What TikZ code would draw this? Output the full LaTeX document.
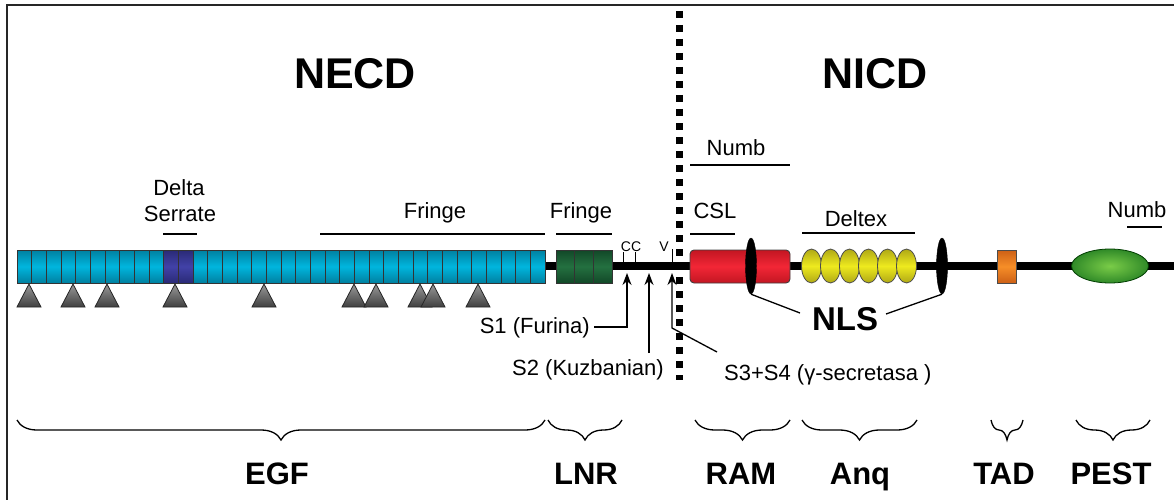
\documentclass[tikz,border=0pt]{standalone}
\usepackage{fontspec}
\setmainfont{Liberation Sans}
\usetikzlibrary{decorations.pathreplacing,shapes.geometric,arrows.meta}
\definecolor{egfmid}{RGB}{0,182,222}
\definecolor{egfedge}{RGB}{0,128,160}
\definecolor{dsmid}{RGB}{66,66,168}
\definecolor{dsedge}{RGB}{42,42,118}
\definecolor{lnrmid}{RGB}{36,112,64}
\definecolor{lnredge}{RGB}{18,72,40}
\definecolor{rammid}{RGB}{242,38,54}
\definecolor{ramedge}{RGB}{195,22,34}
\definecolor{ankmid}{RGB}{238,234,30}
\definecolor{ankedge}{RGB}{175,168,22}
\definecolor{tadmid}{RGB}{246,142,40}
\definecolor{tadedge}{RGB}{205,96,22}
\definecolor{pestin}{RGB}{122,204,72}
\definecolor{pestout}{RGB}{48,138,40}
\begin{document}
\begin{tikzpicture}[x=1pt,y=-1pt,
  cellbox/.style={draw=black!80, line width=0.9pt},
  egfcell/.style={cellbox, top color=egfedge, bottom color=egfedge, middle color=egfmid},
  dscell/.style={cellbox, top color=dsedge, bottom color=dsedge, middle color=dsmid},
  lnrcell/.style={cellbox, top color=lnredge, bottom color=lnredge, middle color=lnrmid},
  glyco/.style={draw=black!85, line width=0.8pt, top color=black!40, bottom color=black!75},
  ankcell/.style={ellipse, draw=black!70, line width=0.8pt, minimum width=20pt, minimum height=34pt, inner sep=0pt, top color=ankedge, bottom color=ankedge, middle color=ankmid},
  nlsmark/.style={ellipse, fill=black, draw=black, minimum width=11pt, minimum height=56pt, inner sep=0pt},
  lbl/.style={font=\fontsize{22}{26}\selectfont, inner sep=0pt, anchor=base},
  tiny/.style={font=\fontsize{14}{14}\selectfont, inner sep=0pt, anchor=base},
  big/.style={font=\bfseries\fontsize{43}{43}\selectfont, inner sep=0pt, anchor=base},
  dom/.style={font=\bfseries\fontsize{31}{31}\selectfont, inner sep=0pt, anchor=base},
  bar/.style={line width=1.2pt},
  cut/.style={line width=1.3pt, -{Stealth[length=12pt,width=9pt]}},
  brc/.style={decorate, decoration={brace, mirror, amplitude=20pt}, line width=1.3pt}]
\useasboundingbox (0,0) rectangle (1174,500);
% frame
\draw[line width=2.6pt, black!85] (7,500) -- (7,5) -- (1174,5);
% backbone
\draw[line width=8pt] (540,266) -- (1174,266);
% EGF repeats
\foreach \i in {0,...,9,12,13,...,35}{
  \pgfmathsetmacro\xa{17+\i*14.667}
  \path[egfcell] (\xa,250) rectangle ++(14.667,33);
}
\foreach \i in {10,11}{
  \pgfmathsetmacro\xa{17+\i*14.667}
  \path[dscell] (\xa,250) rectangle ++(14.667,33);
}
% glycosylation triangles
\foreach \t in {29,73,107,175,264,354,376,420,433,478}{
  \path[glyco] (\t,284) -- (\t+12,307) -- (\t-12,307) -- cycle;
}
% LNR
\foreach \i in {0,1,2}{
  \pgfmathsetmacro\xa{556+\i*18.667}
  \path[lnrcell] (\xa,250) rectangle ++(18.667,33);
}
% cleavage ticks
\draw[line width=1pt] (623,262) -- (623,252);
\draw[line width=1pt] (635,262) -- (635,252);
\draw[line width=1pt] (672,262) -- (672,249);
\node[tiny] (cc) at (631,251) {CC};
\node[tiny] (vv) at (664,251) {V};
% dotted membrane line
\draw[line width=7pt, dash pattern=on 7pt off 7pt] (679,11) -- (679,380);
% RAM
\path[draw=black!75, line width=0.9pt, rounded corners=4pt, top color=ramedge, bottom color=ramedge, middle color=rammid] (690,250) rectangle (790,283);
% ankyrin repeats
\foreach \i in {0,...,5}{
  \node[ankcell] (ank\i) at (811.5+\i*19,266) {};
}
% NLS marks
\node[nlsmark] (nlsa) at (751,266) {};
\node[nlsmark] (nlsb) at (942,266) {};
% TAD
\path[draw=black!70, line width=0.8pt, top color=tadedge, bottom color=tadedge, middle color=tadmid] (997,250) rectangle (1016,283);
% PEST
\node[ellipse, draw=black!60!green!60!black, line width=0.8pt, minimum width=77pt, minimum height=34pt, inner sep=0pt, inner color=pestin, outer color=pestout] (pest) at (1110,266) {};
% titles
\node[big] (necd) at (355,89) {NECD};
\node[big] (nicd) at (875,89) {NICD};
% top labels
\node[lbl] (delta) at (179,195) {Delta};
\node[lbl] (serrate) at (180,221) {Serrate};
\draw[bar] (163,234) -- (197,234);
\node[lbl] (fringea) at (435,218) {Fringe};
\draw[bar] (320,234) -- (545,234);
\node[lbl] (fringeb) at (581,218) {Fringe};
\draw[bar] (556,234) -- (612,234);
\node[lbl] (csl) at (715,218) {CSL};
\draw[bar] (690,234) -- (735,234);
\node[lbl] (numba) at (736,155) {Numb};
\draw[bar] (690,165) -- (790,165);
\node[lbl] (deltex) at (856,226) {Deltex};
\draw[bar] (802,233) -- (915,233);
\node[lbl] (numbb) at (1137,217) {Numb};
\draw[bar] (1127,227) -- (1162,227);
% cleavage sites
\node[lbl, anchor=base east] (s1) at (590,333) {S1 (Furina)};
\node[lbl] (s2) at (588,375) {S2 (Kuzbanian)};
\node[lbl, anchor=base west] (s3) at (724,380) {S3+S4 (γ-secretasa )};
\coordinate (s1tip) at (627,273);
\coordinate (s1bend) at (627,327);
\coordinate (s1end) at (594,327);
\coordinate (s2tip) at (649,273);
\coordinate (s2end) at (649,353);
\coordinate (s3tip) at (672,273);
\coordinate (s3bend) at (672,328);
\coordinate (s3end) at (717,352);
\draw[cut] (s1end) -- (s1bend) -- (s1tip);
\draw[cut] (s2end) -- (s2tip);
\draw[cut] (s3end) -- (s3bend) -- (s3tip);
% NLS label
\node[font=\bfseries\fontsize{33}{33}\selectfont, inner sep=0pt, anchor=base] (nls) at (845,330) {NLS};
\coordinate (nlsla) at (800,313);
\coordinate (nlslb) at (886,314);
\draw[line width=1.3pt] (nlsa.south) -- (nlsla);
\draw[line width=1.3pt] (nlsb.south) -- (nlslb);
% domain braces
\draw[brc] (17,420) -- (545,420);
\draw[brc] (548,420) -- (622,420);
\draw[brc] (695,420) -- (790,420);
\draw[brc] (802,420) -- (917,420);
\draw[brc] (991,420) -- (1023,420);
\draw[brc] (1076,420) -- (1150,420);
\node[dom] (egf) at (277,484) {EGF};
\node[dom] (lnr) at (586,484) {LNR};
\node[dom] (ram) at (741,484) {RAM};
\node[dom] (anq) at (860,484) {Anq};
\node[dom] (tad) at (1004,484) {TAD};
\node[dom] (pestl) at (1111,484) {PEST};
\end{tikzpicture}
\end{document}
